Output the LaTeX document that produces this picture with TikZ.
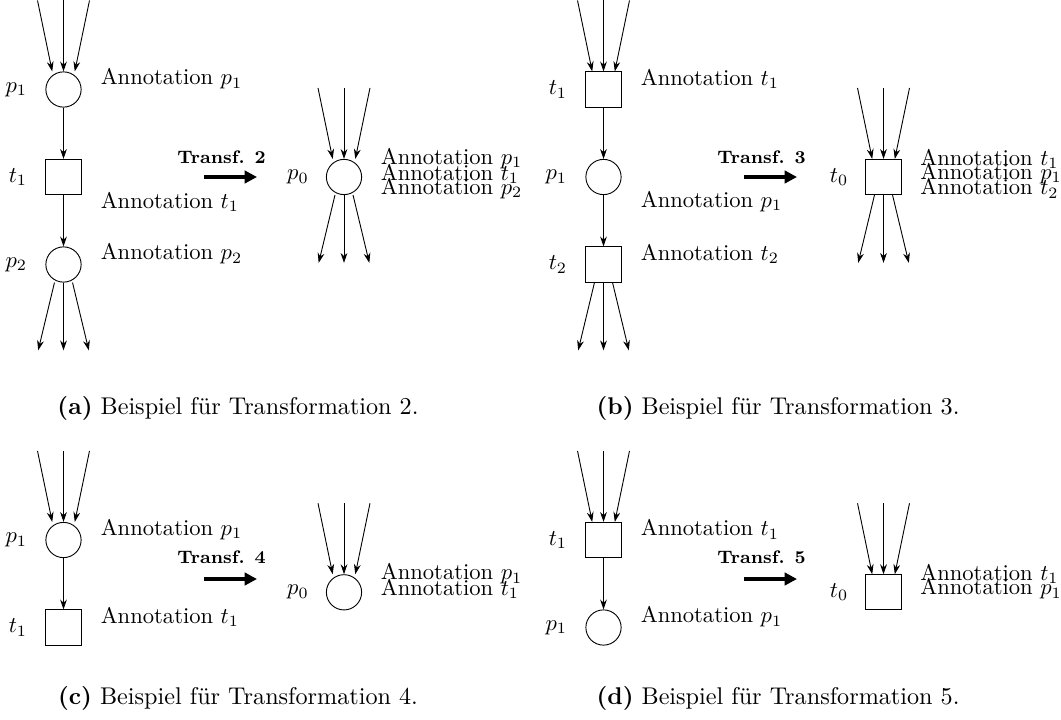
\documentclass[tikz,border=0pt]{standalone}
\usetikzlibrary{arrows.meta,positioning}
\begin{document}
\begin{tikzpicture}[x=0.4425pt,y=-0.4425pt,
    place/.style={circle,draw,minimum size=15.6pt,inner sep=0pt},
    transition/.style={rectangle,draw,minimum size=15.6pt,inner sep=0pt},
    arc/.style={-{Stealth[length=4.4pt,width=3pt]}},
    lbl/.style={inner sep=0pt},
    annot/.style={anchor=west,inner sep=0pt},
    transf/.style={line width=2.2pt,-{Triangle[length=5.5pt,width=5.5pt]}},
    transflbl/.style={font=\footnotesize\bfseries,inner sep=0pt},
    subcap/.style={inner sep=0pt,font=\fontsize{10.7pt}{13pt}\selectfont}]
    \useasboundingbox (0,0) rectangle (1061,719);

    % (a) Transformation 2
    \node[place] (p1a) at (63.5,89.5) {};
    \node[transition] (t1a) at (63.5,177) {};
    \node[place] (p2a) at (63.5,264.5) {};
    \node[place] (p0a) at (344,177) {};
    \draw[arc] (p1a) -- (t1a);
    \draw[arc] (t1a) -- (p2a);

    \node[lbl,left=7.9pt of p1a] (lp1a) {$p_1$};
    \node[lbl,left=7.9pt of t1a] (lt1a) {$t_1$};
    \node[lbl,left=7.9pt of p2a] (lp2a) {$p_2$};
    \node[lbl,left=7.4pt of p0a] (lp0a) {$p_0$};
    \node[annot] (ap1a) at ([shift={(8.3pt,4.7pt)}]p1a.east) {Annotation $p_1$};
    \node[annot] (at1a) at ([shift={(8.3pt,-10.9pt)}]t1a.east) {Annotation $t_1$};
    \node[annot] (ap2a) at ([shift={(8.3pt,4.7pt)}]p2a.east) {Annotation $p_2$};
    \node[annot] (sa1) at ([shift={(8.1pt,8.1pt)}]p0a.east) {Annotation $p_1$};
    \node[annot] (sa2) at ([shift={(8.1pt,1.5pt)}]p0a.east) {Annotation $t_1$};
    \node[annot] (sa3) at ([shift={(8.1pt,-5.1pt)}]p0a.east) {Annotation $p_2$};

    \coordinate (tr2s) at (204,177);
    \coordinate (tr2e) at (257,177);
    \draw[transf] (tr2s) -- (tr2e);
    \node[transflbl] (tx2) at (221.5,157) {Transf. 2};

    % (b) Transformation 3
    \node[transition] (t1b) at (603.5,89.5) {};
    \node[place] (p1b) at (603.5,177) {};
    \node[transition] (t2b) at (603.5,264.5) {};
    \node[transition] (t0b) at (883.5,177) {};
    \draw[arc] (t1b) -- (p1b);
    \draw[arc] (p1b) -- (t2b);

    \node[lbl,left=7.9pt of t1b] (lt1b) {$t_1$};
    \node[lbl,left=7.9pt of p1b] (lp1b) {$p_1$};
    \node[lbl,left=7.9pt of t2b] (lt2b) {$t_2$};
    \node[lbl,left=7.4pt of t0b] (lt0b) {$t_0$};
    \node[annot] (at1b) at ([shift={(8.3pt,4.7pt)}]t1b.east) {Annotation $t_1$};
    \node[annot] (ap1b) at ([shift={(8.3pt,-10.9pt)}]p1b.east) {Annotation $p_1$};
    \node[annot] (at2b) at ([shift={(8.3pt,4.7pt)}]t2b.east) {Annotation $t_2$};
    \node[annot] (sb1) at ([shift={(8.1pt,8.1pt)}]t0b.east) {Annotation $t_1$};
    \node[annot] (sb2) at ([shift={(8.1pt,1.5pt)}]t0b.east) {Annotation $p_1$};
    \node[annot] (sb3) at ([shift={(8.1pt,-5.1pt)}]t0b.east) {Annotation $t_2$};

    \coordinate (tr3s) at (744,177);
    \coordinate (tr3e) at (797,177);
    \draw[transf] (tr3s) -- (tr3e);
    \node[transflbl] (tx3) at (761.5,157) {Transf. 3};

    % (c) Transformation 4
    \node[place] (p1c) at (63.5,540) {};
    \node[transition] (t1c) at (63.5,627.5) {};
    \node[place] (p0c) at (344,592.3) {};
    \draw[arc] (p1c) -- (t1c);

    \node[lbl,left=7.9pt of p1c] (lp1c) {$p_1$};
    \node[lbl,left=7.9pt of t1c] (lt1c) {$t_1$};
    \node[lbl,left=7.4pt of p0c] (lp0c) {$p_0$};
    \node[annot] (ap1c) at ([shift={(8.3pt,4.7pt)}]p1c.east) {Annotation $p_1$};
    \node[annot] (at1c) at ([shift={(8.3pt,4.7pt)}]t1c.east) {Annotation $t_1$};
    \node[annot] (sc1) at ([shift={(8.1pt,8.1pt)}]p0c.east) {Annotation $p_1$};
    \node[annot] (sc2) at ([shift={(8.1pt,1.5pt)}]p0c.east) {Annotation $t_1$};

    \coordinate (tr4s) at (204,579);
    \coordinate (tr4e) at (257,579);
    \draw[transf] (tr4s) -- (tr4e);
    \node[transflbl] (tx4) at (221.5,557) {Transf. 4};

    % (d) Transformation 5
    \node[transition] (t1d) at (603.5,540) {};
    \node[place] (p1d) at (603.5,627.5) {};
    \node[transition] (t0d) at (883.5,592.3) {};
    \draw[arc] (t1d) -- (p1d);

    \node[lbl,left=7.9pt of t1d] (lt1d) {$t_1$};
    \node[lbl,left=7.9pt of p1d] (lp1d) {$p_1$};
    \node[lbl,left=7.4pt of t0d] (lt0d) {$t_0$};
    \node[annot] (at1d) at ([shift={(8.3pt,4.7pt)}]t1d.east) {Annotation $t_1$};
    \node[annot] (ap1d) at ([shift={(8.3pt,4.7pt)}]p1d.east) {Annotation $p_1$};
    \node[annot] (sd1) at ([shift={(8.1pt,8.1pt)}]t0d.east) {Annotation $t_1$};
    \node[annot] (sd2) at ([shift={(8.1pt,1.5pt)}]t0d.east) {Annotation $p_1$};

    \coordinate (tr5s) at (744,579);
    \coordinate (tr5e) at (797,579);
    \draw[transf] (tr5s) -- (tr5e);
    \node[transflbl] (tx5) at (761.5,557) {Transf. 5};

    % incoming and outgoing arcs
    \foreach \n in {p1a,p0a,t1b,t0b,p1c,p0c,t1d,t0d}
      \foreach \d in {-1,0,1} {
        \coordinate (\n-in\d) at ([xshift=\d*11.5pt,yshift=31.4pt]\n.north);
        \draw[arc] (\n-in\d) -- ([xshift=\d*5pt]\n.north);
      }
    \foreach \n in {p2a,p0a,t2b,t0b}
      \foreach \d in {-1,0,1} {
        \coordinate (\n-out\d) at ([xshift=\d*11.2pt,yshift=-30pt]\n.south);
        \draw[arc] ([xshift=\d*4pt]\n.south) -- (\n-out\d);
      }

    % captions
    \node[subcap] (capa) at (238,408) {\textbf{(a)} Beispiel für Transformation 2.};
    \node[subcap] (capb) at (778,408) {\textbf{(b)} Beispiel für Transformation 3.};
    \node[subcap] (capc) at (238,698) {\textbf{(c)} Beispiel für Transformation 4.};
    \node[subcap] (capd) at (778,698) {\textbf{(d)} Beispiel für Transformation 5.};
\end{tikzpicture}
\end{document}
